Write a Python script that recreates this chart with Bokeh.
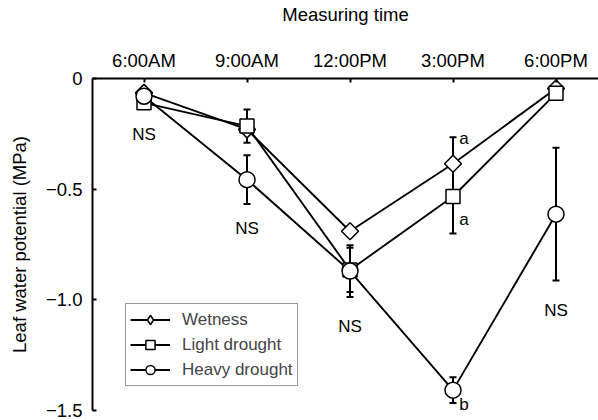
import math
from bokeh.plotting import figure
from bokeh.models import (Range1d, FixedTicker, CustomJSTickFormatter, Whisker, TeeHead,
                          ColumnDataSource, Legend, LegendItem)
from bokeh.core.properties import value
from bokeh.embed import file_html
from bokeh.resources import INLINE

times = ["6:00AM", "9:00AM", "12:00PM", "3:00PM", "6:00PM"]
series = ["Wetness", "Light drought", "Heavy drought"]
wetness = [-0.065, -0.23, -0.69, -0.385, -0.045]
light = [-0.11, -0.215, -0.865, -0.533, -0.067]
heavy = [-0.08, -0.457, -0.87, -1.408, -0.613]
wetness_err = [0.0, 0.0, 0.0, 0.12, 0.0]
light_err = [0.0, 0.075, 0.1, 0.167, 0.0]
heavy_err = [0.0, 0.11, 0.117, 0.058, 0.3]
y_ticks = [0, -0.5, -1.0, -1.5]

# significance annotations: (time index, value, text)
ann_pos = [1, 2, 3, 5, 4.06, 4.06, 4.06]
ann_val = [-0.255, -0.676, -1.12, -1.048, -0.273, -0.636, -1.475]
ann_txt = ["NS", "NS", "NS", "NS", "a", "a", "b"]
ann_align = ["center", "center", "center", "center", "left", "left", "left"]

FONT = "Liberation Sans"
xs = list(range(1, len(times) + 1))

p = figure(width=598, height=420, output_backend="svg", toolbar_location=None,
           x_axis_location="above",
           x_range=Range1d(0.5, 0.5 + 506 / 103), y_range=Range1d(-1.5, 0),
           min_border_left=92, min_border_top=77, min_border_right=0, min_border_bottom=10)
p.outline_line_color = None
p.xgrid.visible = False
p.ygrid.visible = False
p.background_fill_color = "white"
p.border_fill_color = "white"

for ax in (p.xaxis[0], p.yaxis[0]):
    ax.axis_line_width = 2
    ax.axis_line_color = "black"
    ax.major_tick_line_width = 2
    ax.major_tick_line_color = "black"
    ax.major_tick_in = 4
    ax.major_tick_out = 0
    ax.minor_tick_line_color = None
    ax.major_label_text_font = FONT
    ax.major_label_text_font_size = "18.5px"
    ax.major_label_text_color = "black"
    ax.axis_label_text_font = FONT
    ax.axis_label_text_font_size = "18.5px"
    ax.axis_label_text_font_style = "normal"
    ax.axis_label_text_color = "black"

p.xaxis[0].ticker = FixedTicker(ticks=xs)
p.xaxis[0].formatter = CustomJSTickFormatter(args=dict(labels=times),
                                             code="return labels[Math.round(tick) - 1];")
p.xaxis[0].axis_label = "Measuring time"
p.xaxis[0].major_label_standoff = 8
p.xaxis[0].axis_label_standoff = 22

p.yaxis[0].ticker = FixedTicker(ticks=y_ticks)
p.yaxis[0].formatter = CustomJSTickFormatter(
    code="return tick == 0 ? '0' : '\\u2212' + Math.abs(tick).toFixed(1);")
p.yaxis[0].axis_label = "Leaf water potential (MPa)"
p.yaxis[0].major_label_standoff = 10
p.yaxis[0].axis_label_standoff = 13

markers = ["square", "square", "circle"]
angles = [math.pi / 4, 0, 0]
sizes = [12, 14, 16]
values = [wetness, light, heavy]
errs = [wetness_err, light_err, heavy_err]

line_rs, mark_rs = [], []
for vals in values:
    line_rs.append(p.line(xs, vals, line_color="black", line_width=1.9))

for vals, err in zip(values, errs):
    idx = [i for i, e in enumerate(err) if e > 0]
    src = ColumnDataSource(dict(x=[xs[i] for i in idx],
                                lo=[vals[i] - err[i] for i in idx],
                                hi=[vals[i] + err[i] for i in idx]))
    w = Whisker(source=src, base="x", lower="lo", upper="hi", line_width=2, line_color="black",
                lower_head=TeeHead(size=7, line_width=2, line_color="black"),
                upper_head=TeeHead(size=7, line_width=2, line_color="black"))
    p.add_layout(w)

for vals, m, s, a in zip(values, markers, sizes, angles):
    mark_rs.append(p.scatter(xs, vals, marker=m, size=s, angle=a, fill_color="white",
                             line_color="black", line_width=1.5))

# legend stand-in for the rotated square (legend glyphs ignore marker angle)
legend_diamond = p.scatter(xs, wetness, marker="diamond", size=17, fill_color="white",
                           line_color="black", line_width=1.5, visible=False)
legend_marks = [legend_diamond, mark_rs[1], mark_rs[2]]

p.text(x=ann_pos, y=ann_val, text=ann_txt, text_align=ann_align, text_baseline="middle",
       text_font=value(FONT), text_font_size="17px", text_color="black")

items = [LegendItem(label=name, renderers=[lr, mr])
         for name, lr, mr in zip(series, line_rs, legend_marks)]
legend = Legend(items=items, location=(33, 24), glyph_width=40, glyph_height=23,
                label_height=23, spacing=2, padding=4, margin=0, label_standoff=12,
                label_text_font=FONT, label_text_font_size="17px",
                border_line_color="#333333", border_line_width=1,
                background_fill_color="white", background_fill_alpha=1)
p.add_layout(legend, "center")

open("out.html", "w").write(file_html(p, INLINE))
